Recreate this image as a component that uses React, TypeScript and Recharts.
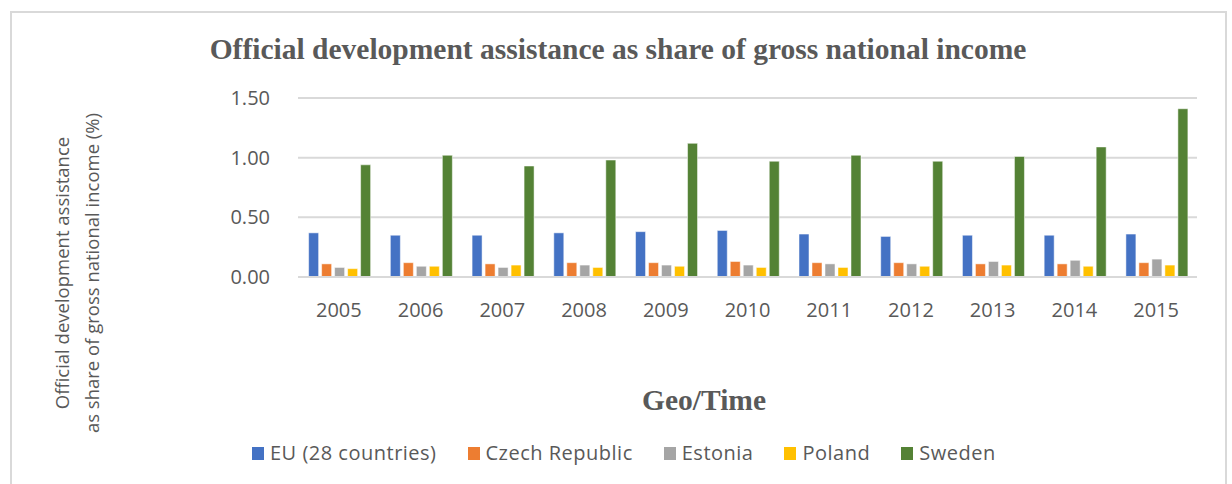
import { BarChart, Bar, XAxis, YAxis, CartesianGrid } from 'recharts'

const years = ['2005', '2006', '2007', '2008', '2009', '2010', '2011', '2012', '2013', '2014', '2015']
const eu28 = [0.37, 0.35, 0.35, 0.37, 0.38, 0.39, 0.36, 0.34, 0.35, 0.35, 0.36]
const czech = [0.11, 0.12, 0.11, 0.12, 0.12, 0.13, 0.12, 0.12, 0.11, 0.11, 0.12]
const estonia = [0.08, 0.09, 0.08, 0.10, 0.10, 0.10, 0.11, 0.11, 0.13, 0.14, 0.15]
const poland = [0.07, 0.09, 0.10, 0.08, 0.09, 0.08, 0.08, 0.09, 0.10, 0.09, 0.10]
const sweden = [0.94, 1.02, 0.93, 0.98, 1.12, 0.97, 1.02, 0.97, 1.01, 1.09, 1.41]
const yTicks = [0, 0.5, 1, 1.5]

const series = [
  { key: 'eu', name: 'EU (28 countries)', color: '#4472c4' },
  { key: 'cz', name: 'Czech Republic', color: '#ed7d31' },
  { key: 'ee', name: 'Estonia', color: '#a5a5a5' },
  { key: 'pl', name: 'Poland', color: '#ffc000' },
  { key: 'se', name: 'Sweden', color: '#548235' },
]

const data = years.map((y, i) => ({
  year: y,
  eu: eu28[i],
  cz: czech[i],
  ee: estonia[i],
  pl: poland[i],
  se: sweden[i],
}))

const grey = '#595959'
const tickFont = "'Open Sans', 'Noto Sans', sans-serif"
const serif = "'Liberation Serif', 'Times New Roman', serif"

export default function App() {
  return (
    <div style={{ position: 'absolute', left: 0, top: 0, width: 1232, height: 484, background: '#fff', overflow: 'hidden' }}>
      {/* chart frame */}
      <div style={{ position: 'absolute', left: 10, top: 11, width: 1217, height: 500, border: '2px solid #d9d9d9', boxSizing: 'border-box' }} />

      <div style={{ position: 'absolute', left: 0, top: 32, width: 1236, textAlign: 'center', fontFamily: serif, fontWeight: 700, fontSize: 29.5, color: grey, lineHeight: '34px' }}>
        Official development assistance as share of gross national income
      </div>

      <div style={{ position: 'absolute', left: 0, top: 383, width: 1408, textAlign: 'center', fontFamily: serif, fontWeight: 700, fontSize: 29.5, color: grey, lineHeight: '34px' }}>
        Geo/Time
      </div>

      <div style={{
        position: 'absolute', left: 77, top: 273, width: 420, transform: 'translate(-50%, -50%) rotate(-90deg)',
        textAlign: 'center', fontFamily: tickFont, fontSize: 18.5, color: grey, lineHeight: '30px',
      }}>
        Official development assistance<br />as share of gross national income (%)
      </div>

      <div style={{ position: 'absolute', left: 0, top: 0 }}>
        <BarChart
          width={1232}
          height={484}
          data={data}
          margin={{ top: 98, right: 35, left: 0, bottom: 167 }}
          barCategoryGap="13%"
          barGap={3}
        >
          <CartesianGrid vertical={false} stroke="#d9d9d9" strokeWidth={2} />
          <YAxis
            width={298}
            domain={[0, 1.5]}
            ticks={yTicks}
            tickFormatter={(v: number) => v.toFixed(2)}
            axisLine={false}
            tickLine={false}
            tickMargin={22}
            tick={{ fill: grey, fontSize: 20, fontFamily: tickFont }}
          />
          <XAxis
            dataKey="year"
            axisLine={{ stroke: '#d9d9d9', strokeWidth: 2 }}
            tickLine={false}
            tickMargin={20}
            height={40}
            tick={{ fill: grey, fontSize: 20, fontFamily: tickFont }}
          />
          {series.map(s => (
            <Bar key={s.key} dataKey={s.key} name={s.name} fill={s.color} stroke="#fff" strokeWidth={0.5} isAnimationActive={false} />
          ))}
        </BarChart>
      </div>

      <div style={{ position: 'absolute', left: 252, top: 439, display: 'flex', gap: 31, fontFamily: tickFont, fontSize: 20, letterSpacing: 0.5, color: grey, lineHeight: '28px' }}>
        {series.map(s => (
          <div key={s.key} style={{ display: 'flex', alignItems: 'center', gap: 6 }}>
            <span style={{ display: 'inline-block', width: 12, height: 13, background: s.color }} />
            <span>{s.name}</span>
          </div>
        ))}
      </div>
    </div>
  )
}
